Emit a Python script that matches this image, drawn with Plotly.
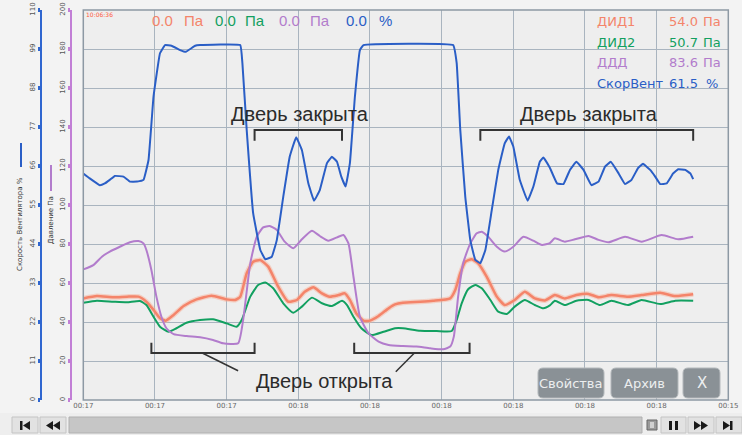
import plotly.graph_objects as go

W, H = 742, 435

# ---------------- data (time in s, 10 s per grid step) ----------------
t_vent = [0.0, 0.9, 2.3, 3.0, 3.7, 4.4, 5.6, 6.5, 7.5, 8.4, 9.1, 9.8, 10.7, 11.4, 12.3, 13.5, 14.3, 15.6, 16.3,
          21.9, 22.2, 22.8, 23.7, 24.7, 25.4, 26.3, 27.0, 27.9, 28.8, 29.7, 30.5, 31.4, 32.2, 33.0, 34.0, 34.7,
          35.4, 36.0, 36.6, 37.2, 37.9, 38.6, 39.1, 51.6, 52.1, 52.6, 53.3, 54.0, 54.7, 55.4, 56.1, 57.0, 57.9,
          58.8, 59.4, 60.0, 60.9, 62.0, 62.8, 63.7, 64.2, 65.1, 66.1, 67.0, 67.9, 68.8, 69.8, 70.9, 71.9, 72.8,
          73.6, 74.7, 75.6, 76.5, 77.4, 78.1, 79.1, 79.8, 80.5, 81.4, 82.3, 83.0, 84.0, 84.7, 85.1]
v_vent = [63.9, 62.5, 60.6, 61.1, 62.1, 63.2, 63.0, 61.6, 61.6, 62.1, 67.7, 85.6, 97.8, 100.1, 99.9, 98.7, 98.2, 99.9, 100.1,
          100.1, 95.0, 76.2, 52.7, 42.3, 39.7, 40.4, 45.1, 57.3, 68.6, 74.1, 70.5, 61.1, 56.2, 59.2, 66.8, 68.6,
          67.2, 63.0, 60.2, 66.8, 85.6, 98.7, 100.1, 100.1, 95.0, 76.2, 57.3, 45.1, 39.5, 38.6, 42.3, 53.6, 64.9,
          72.4, 74.3, 71.5, 62.1, 56.2, 60.2, 67.2, 68.4, 65.5, 61.1, 60.9, 64.9, 67.2, 64.9, 60.6, 61.6, 65.8,
          67.2, 63.9, 60.9, 62.1, 65.4, 66.6, 64.9, 63.0, 60.9, 61.1, 63.9, 65.1, 64.9, 63.9, 62.3]

t_ddd = [0.0, 1.4, 2.6, 3.7, 5.1, 6.5, 7.7, 8.4, 8.8, 9.5, 10.2, 10.9, 11.6, 12.6, 14.4, 16.3, 18.1, 19.5, 21.6,
         22.3, 23.3, 24.2, 25.1, 26.0, 27.0, 28.1, 29.3, 30.5, 31.9, 33.0, 34.2, 35.4, 36.3, 37.0, 37.7, 38.6,
         39.8, 41.2, 42.6, 44.6, 46.5, 48.4, 50.2, 51.2, 51.7, 52.3, 53.0, 54.0, 54.9, 55.6, 56.5, 57.7, 58.8,
         60.0, 61.4, 62.8, 64.0, 65.1, 65.8, 67.2, 68.6, 70.5, 71.9, 73.3, 75.6, 77.9, 80.7, 83.0, 85.1]
v_ddd = [67.0, 69.2, 73.5, 76.1, 78.6, 80.9, 81.5, 80.3, 76.9, 66.7, 53.0, 42.7, 36.8, 33.8, 32.8, 32.2, 30.8, 29.1, 29.1,
         41.0, 70.1, 83.7, 88.5, 89.2, 87.2, 81.2, 77.8, 82.4, 86.8, 84.1, 81.7, 83.4, 84.6, 80.3, 63.2, 42.7,
         34.2, 29.9, 28.2, 27.7, 27.4, 26.5, 26.0, 27.4, 32.5, 53.0, 70.1, 80.3, 85.5, 86.3, 83.7, 78.6, 76.1,
         78.6, 83.7, 81.7, 79.5, 80.5, 82.9, 81.2, 82.4, 84.1, 82.1, 80.9, 83.7, 81.2, 84.6, 82.4, 83.7]

t_did1 = [0.0, 1.9, 4.2, 6.1, 7.7, 8.8, 9.8, 10.7, 11.5, 12.6, 14.0, 15.8, 17.9, 20.0, 21.2, 21.9, 22.8, 23.7,
          24.7, 25.8, 27.2, 28.6, 29.8, 30.9, 32.1, 33.3, 34.4, 35.6, 36.5, 37.2, 38.1, 39.1, 40.0, 41.2, 42.6,
          43.5, 44.6, 47.0, 48.8, 51.2, 51.9, 52.6, 53.3, 54.2, 55.1, 56.3, 57.7, 58.8, 60.2, 61.6, 63.0, 64.4,
          65.8, 67.2, 68.8, 70.5, 71.9, 73.7, 76.0, 77.9, 80.5, 82.6, 85.1]
v_did1 = [52.1, 53.3, 52.7, 53.0, 53.0, 50.4, 46.2, 41.9, 40.7, 43.6, 48.2, 51.6, 53.5, 51.6, 51.3, 53.0, 65.0, 70.9,
          71.8, 68.4, 58.1, 50.4, 51.3, 55.5, 57.8, 54.7, 53.0, 53.8, 54.7, 51.3, 44.4, 40.7, 40.7, 43.1, 47.0,
          49.0, 49.9, 50.4, 50.9, 52.1, 56.4, 65.0, 70.9, 72.2, 70.1, 63.2, 53.0, 48.7, 51.3, 55.5, 52.1, 51.0,
          53.8, 52.1, 53.8, 54.4, 52.7, 53.8, 53.0, 53.8, 55.0, 53.3, 54.2]

t_did2 = [0.0, 1.9, 4.2, 6.1, 7.9, 8.8, 9.8, 10.7, 11.9, 13.0, 14.4, 16.3, 18.1, 20.0, 21.4, 22.1, 23.3, 24.4,
          25.4, 26.5, 27.9, 29.3, 30.5, 31.9, 33.3, 34.7, 36.1, 36.8, 37.7, 38.8, 40.2, 41.9, 43.5, 44.6, 47.0,
          49.3, 51.4, 52.1, 52.8, 53.7, 54.7, 55.6, 56.8, 57.9, 59.1, 60.2, 61.6, 63.0, 64.2, 65.1, 65.8, 67.2,
          68.8, 70.5, 72.1, 73.7, 76.0, 77.9, 80.5, 82.6, 85.1]
v_did2 = [49.9, 50.9, 50.4, 50.1, 50.8, 48.7, 42.7, 37.6, 35.0, 36.8, 39.6, 41.0, 41.4, 39.3, 37.6, 41.0, 53.0, 59.0,
          60.2, 57.3, 49.6, 44.8, 47.9, 52.5, 49.6, 48.2, 50.9, 48.7, 42.7, 36.8, 33.3, 35.0, 36.8, 36.8, 35.5,
          35.4, 35.4, 41.0, 49.6, 56.8, 59.0, 57.3, 51.3, 45.3, 44.1, 47.9, 51.3, 48.7, 47.0, 48.5, 50.9, 48.7,
          50.9, 51.3, 48.7, 50.9, 48.7, 51.3, 49.2, 50.9, 50.9]

x_tickvals = [0, 10, 20, 30, 40, 50, 60, 70, 80, 90]
x_ticktext = ["00:17", "00:17", "00:17", "00:18", "00:18", "00:18", "00:18", "00:18", "00:18", "00:15"]
pa_ticks = [0, 20, 40, 60, 80, 100, 120, 140, 160, 180, 200]
pct_ticks = [0, 11, 22, 33, 44, 55, 66, 77, 88, 99, 110]

names = ["ДИД1", "ДИД2", "ДДД", "СкорВент"]
current = ["54.0", "50.7", "83.6", "61.5"]
units = ["Па", "Па", "Па", "%"]

C_DID1 = "#f4846a"
C_DID2 = "#12a060"
C_DDD = "#b27ccc"
C_VENT = "#2a5ec6"
GRID = "#a9b4bf"
LINE_SHAPE = dict(shape="spline", smoothing=0.5)
VENT_SHAPE = dict(shape="spline", smoothing=0.25)

def px(x):
    return x / W

def py(y):
    return 1 - y / H

def note(x, y, text, size, color, family="DejaVu Sans", xanchor="center", **kw):
    return dict(x=px(x), y=py(y), xref="paper", yref="paper", text=text, showarrow=False,
                xanchor=xanchor, yanchor="middle", font=dict(family=family, size=size, color=color), **kw)

fig = go.Figure()
fig.add_trace(go.Scatter(x=t_did1, y=v_did1, mode="lines", line=dict(color="rgba(248,170,145,0.45)", width=5, **LINE_SHAPE), hoverinfo="skip"))
fig.add_trace(go.Scatter(x=t_did1, y=v_did1, mode="lines", line=dict(color=C_DID1, width=2.5, **LINE_SHAPE), name="ДИД1"))
fig.add_trace(go.Scatter(x=t_did2, y=v_did2, mode="lines", line=dict(color=C_DID2, width=2, **LINE_SHAPE), name="ДИД2"))
fig.add_trace(go.Scatter(x=t_ddd, y=v_ddd, mode="lines", line=dict(color=C_DDD, width=2, **LINE_SHAPE), name="ДДД"))
fig.add_trace(go.Scatter(x=t_vent, y=v_vent, mode="lines", line=dict(color=C_VENT, width=2, **VENT_SHAPE), name="СкорВент", yaxis="y2"))

shapes = []
annotations = []

# plot frame
shapes.append(dict(type="rect", xref="x domain", yref="y domain", x0=0, x1=1, y0=0, y1=1,
                   line=dict(color="#8d99a4", width=1.5), layer="above"))

# brackets (data coordinates)
def bracket(t0, t1, ybar, ytip):
    return dict(type="path", xref="x", yref="y",
                path=f"M {t0},{ytip} L {t0},{ybar} L {t1},{ybar} L {t1},{ytip}",
                line=dict(color="#333333", width=2))

shapes.append(bracket(23.9, 36.1, 138.5, 133.0))
shapes.append(bracket(55.4, 85.1, 138.5, 133.0))
shapes.append(bracket(9.5, 23.9, 24.1, 29.4))
shapes.append(bracket(37.8, 53.9, 24.1, 29.4))
shapes.append(dict(type="line", xref="x", yref="y", x0=16.6, y0=24.1, x1=21.6, y1=15.0, line=dict(color="#333333", width=1.5)))
shapes.append(dict(type="line", xref="x", yref="y", x0=46.2, y0=24.1, x1=43.6, y1=14.5, line=dict(color="#333333", width=1.5)))

for tx, ty, txt in [(30.2, 146.5, "Дверь закрыта"), (70.6, 146.5, "Дверь закрыта"), (33.7, 9.7, "Дверь открыта")]:
    annotations.append(dict(x=tx, y=ty, xref="x", yref="y", text=txt, showarrow=False,
                            xanchor="center", yanchor="middle",
                            font=dict(family="Liberation Sans", size=20, color="#2b2b2b")))

# header: live values
annotations.append(note(100, 15, "10:06:36", 6, "#ff5a3c"))
hdr = [(162, "0.0", C_DID1), (194, "Па", C_DID1), (226, "0.0", C_DID2), (255, "Па", C_DID2),
       (289, "0.0", C_DDD), (320, "Па", C_DDD), (356, "0.0", C_VENT), (385, "%", C_VENT)]
for x, txt, c in hdr:
    annotations.append(note(x, 21, txt, 15, c, family="Liberation Sans"))

# top-right legend
leg_colors = [C_DID1, C_DID2, C_DDD, C_VENT]
leg_y = [21.7, 42.7, 62.7, 83.3]
for n, v, u, c, yy in zip(names, current, units, leg_colors, leg_y):
    annotations.append(note(595, yy, n, 13, c, xanchor="left"))
    annotations.append(note(683, yy, v, 13, c))
    annotations.append(note(712, yy, u, 13, c))

# axis titles with legend segments
annotations.append(note(20, 224, "Скорость Вентилятора %", 7, "#333", textangle=-90))
annotations.append(note(51, 220, "Давление Па", 7, "#333", textangle=-90))
shapes.append(dict(type="line", xref="paper", yref="paper", x0=px(21), x1=px(21), y0=py(143), y1=py(167),
                   line=dict(color=C_VENT, width=2)))
shapes.append(dict(type="line", xref="paper", yref="paper", x0=px(51), x1=px(51), y0=py(165), y1=py(191),
                   line=dict(color=C_DDD, width=2)))

# buttons
def rrect(x0, y0, x1, y1, r):
    P = lambda x, y: f"{px(x):.5f},{py(y):.5f}"
    return ("M " + P(x0 + r, y0) + " L " + P(x1 - r, y0) + " Q " + P(x1, y0) + " " + P(x1, y0 + r) +
            " L " + P(x1, y1 - r) + " Q " + P(x1, y1) + " " + P(x1 - r, y1) +
            " L " + P(x0 + r, y1) + " Q " + P(x0, y1) + " " + P(x0, y1 - r) +
            " L " + P(x0, y0 + r) + " Q " + P(x0, y0) + " " + P(x0 + r, y0) + " Z")

for (x0, x1, label) in [(538, 604, "Свойства"), (611, 678, "Архив"), (683, 720, "X")]:
    shapes.append(dict(type="path", xref="paper", yref="paper", path=rrect(x0, 368, x1, 398, 5),
                       fillcolor="#8a9196", line=dict(color="#b3b8bb", width=1), layer="above"))
    annotations.append(note((x0 + x1) / 2, 383, label, 13 if label != "X" else 15, "#eceeef"))

# bottom navigation bar
shapes.append(dict(type="rect", xref="paper", yref="paper", x0=px(0), x1=px(742), y0=py(435), y1=py(413),
                   fillcolor="#eeeeee", line=dict(width=0)))
shapes.append(dict(type="rect", xref="paper", yref="paper", x0=px(69), x1=px(642), y0=py(433), y1=py(417),
                   fillcolor="#c6c6c6", line=dict(color="#b0b0b0", width=1)))
for x0, x1 in [(12, 38), (40, 66), (661, 686), (688, 714), (716, 742)]:
    shapes.append(dict(type="rect", xref="paper", yref="paper", x0=px(x0), x1=px(x1), y0=py(433), y1=py(417),
                       fillcolor="#e2e2e2", line=dict(color="#c4c4c4", width=1)))

def poly(pts):
    return "M " + " L ".join(f"{px(a):.5f},{py(b):.5f}" for a, b in pts) + " Z"

icons = [
    [(20, 421), (22.5, 421), (22.5, 430), (20, 430)],
    [(30, 421), (30, 430), (23, 425.5)],
    [(53, 421), (53, 430), (46, 425.5)],
    [(60, 421), (60, 430), (53, 425.5)],
    [(669, 421), (672, 421), (672, 430), (669, 430)],
    [(675, 421), (678, 421), (678, 430), (675, 430)],
    [(694, 421), (694, 430), (701, 425.5)],
    [(701, 421), (701, 430), (708, 425.5)],
    [(723, 421), (723, 430), (730, 425.5)],
    [(730, 421), (732.5, 421), (732.5, 430), (730, 430)],
]
for pts in icons:
    shapes.append(dict(type="path", xref="paper", yref="paper", path=poly(pts), fillcolor="#1a1a1a",
                       line=dict(width=0)))
shapes.append(dict(type="rect", xref="paper", yref="paper", x0=px(647), x1=px(657), y0=py(430), y1=py(420),
                   fillcolor="#9a9a9a", line=dict(color="#666", width=1)))
shapes.append(dict(type="rect", xref="paper", yref="paper", x0=px(650), x1=px(654), y0=py(428), y1=py(422),
                   fillcolor="#d0d0d0", line=dict(width=0)))

fig.update_layout(
    width=W, height=H,
    margin=dict(l=0, r=0, t=0, b=0, autoexpand=False),
    paper_bgcolor="#f3f3f3",
    plot_bgcolor="#eeeeee",
    showlegend=False,
    hovermode=False,
    xaxis=dict(domain=[px(83.3), px(728.3)], range=[0, 90], tickvals=x_tickvals, ticktext=x_ticktext,
               showgrid=True, gridcolor=GRID, gridwidth=1, zeroline=False, showline=False, ticks="",
               tickfont=dict(family="DejaVu Sans", size=7, color="#666"), anchor="y", fixedrange=True),
    yaxis=dict(domain=[py(400), py(10)], range=[0, 200], tickvals=pa_ticks, anchor="free", position=px(71),
               showgrid=True, gridcolor=GRID, gridwidth=1, zeroline=False,
               showline=True, linecolor="#c27fd6", linewidth=2,
               ticks="outside", ticklen=2, tickwidth=4, tickcolor="#c27fd6", tickangle=-90,
               tickfont=dict(family="DejaVu Sans", size=7, color="#555"), fixedrange=True),
    yaxis2=dict(overlaying="y", range=[0, 110], tickvals=pct_ticks, anchor="free", position=px(41), side="left",
                showgrid=False, zeroline=False, showline=True, linecolor="#2f66d0", linewidth=2,
                ticks="outside", ticklen=2, tickwidth=4, tickcolor="#2f66d0", tickangle=-90,
                tickfont=dict(family="DejaVu Sans", size=7, color="#555"), fixedrange=True),
    shapes=shapes,
    annotations=annotations,
)

fig.write_html("out.html", config={"displayModeBar": False},
               post_script="document.body.style.margin='0';document.body.style.overflow='hidden';")
